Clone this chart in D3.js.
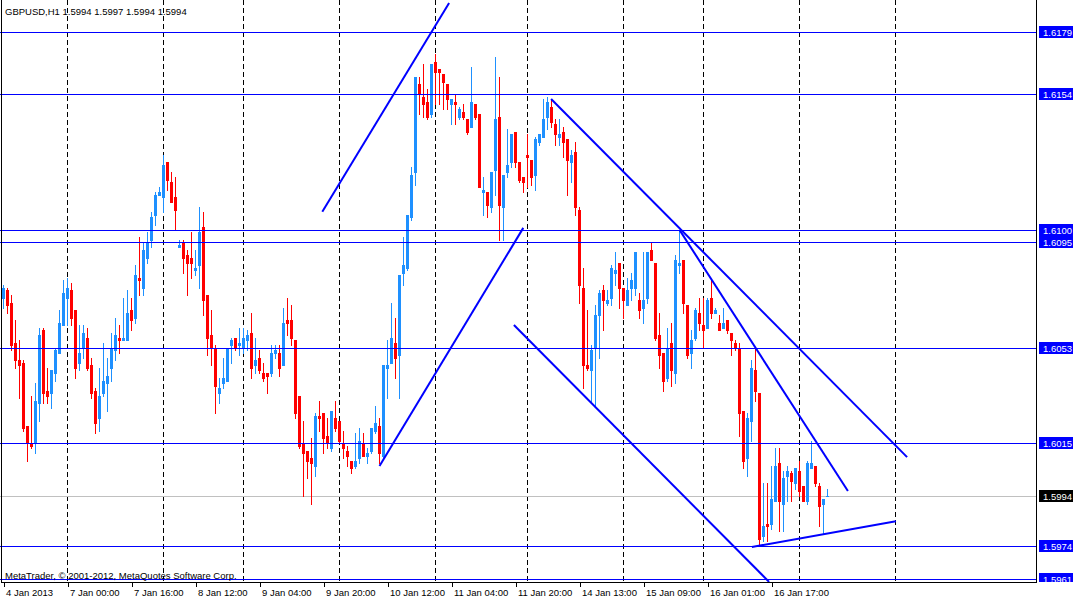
<!DOCTYPE html>
<html><head><meta charset="utf-8">
<script src="https://cdn.jsdelivr.net/npm/d3@7/dist/d3.min.js"></script>
<style>
html,body{margin:0;padding:0;background:#fff;overflow:hidden}
text{font-family:"Liberation Sans",Arial,sans-serif;font-size:9.5px}
</style>
</head><body>
<svg id="chart" width="1075" height="599"></svg>
<script>
// ---------------- DATA ----------------
const symbolName = "GBPUSD,H1";
const lastQuote = ["1.5994", "1.5997", "1.5994", "1.5994"];
const copyright = "MetaTrader, \u00a9 2001-2012, MetaQuotes Software Corp.";

const opens = [
1.6073,1.6076,1.6071,1.6055,1.6048,1.6047,1.6022,1.6015,1.6015,1.6031,
1.6060,1.6036,1.6035,1.6043,1.6051,1.6062,1.6073,1.6076,1.6068,1.6047,
1.6053,1.6057,1.6046,1.6036,1.6025,1.6035,1.6039,1.6045,1.6052,1.6057,
1.6056,1.6056,1.6068,1.6065,1.6081,1.6077,1.6089,1.6096,1.6106,1.6114,
1.6113,1.6127,1.6119,1.6113,1.6093,1.6095,1.6090,1.6089,1.6084,1.6086,
1.6101,1.6074,1.6058,1.6053,1.6035,1.6039,1.6040,1.6054,1.6057,1.6054,
1.6053,1.6056,1.6059,1.6046,1.6049,1.6043,1.6043,1.6043,1.6051,1.6051,
1.6046,1.6064,1.6064,1.6056,1.6034,1.6015,1.6012,1.6009,1.6006,1.6026,
1.6027,1.6018,1.6013,1.6025,1.6024,1.6015,1.6012,1.6008,1.6006,1.6009,
1.6015,1.6010,1.6012,1.6020,1.6022,1.6010,1.6045,1.6047,1.6055,1.6050,
1.6083,1.6085,1.6105,1.6123,1.6158,1.6153,1.6151,1.6146,1.6167,1.6164,
1.6162,1.6158,1.6150,1.6151,1.6145,1.6147,1.6144,1.6141,1.6150,1.6146,
1.6115,1.6115,1.6109,1.6124,1.6145,1.6109,1.6123,1.6127,1.6139,1.6127,
1.6121,1.6130,1.6128,1.6122,1.6135,1.6137,1.6145,1.6149,1.6142,1.6137,
1.6139,1.6136,1.6127,1.6131,1.6108,1.6077,1.6046,1.6044,1.6053,1.6066,
1.6076,1.6071,1.6073,1.6083,1.6087,1.6077,1.6070,1.6077,1.6077,1.6072,
1.6069,1.6073,1.6092,1.6087,1.6058,1.6051,1.6041,1.6055,1.6043,1.6086,
1.6088,1.6070,1.6051,1.6057,1.6067,1.6062,1.6061,1.6073,1.6067,1.6063,
1.6061,1.6064,1.6059,1.6055,1.6053,1.6028,1.6009,1.6024,1.6044,1.6035,
1.5978,1.5983,1.5983,1.5992,1.6007,1.5991,1.6002,1.6003,1.5999,1.6004,
1.5998,1.5992,1.6005,1.6006,1.5998,1.5991,1.5994];
const highs = [
1.6078,1.6077,1.6074,1.6064,1.6056,1.6048,1.6022,1.6034,1.6039,1.6061,
1.6061,1.6045,1.6044,1.6053,1.6068,1.6080,1.6081,1.6079,1.6068,1.6062,
1.6062,1.6061,1.6049,1.6037,1.6045,1.6055,1.6049,1.6059,1.6065,1.6062,
1.6073,1.6076,1.6073,1.6086,1.6097,1.6095,1.6099,1.6107,1.6115,1.6117,
1.6130,1.6127,1.6123,1.6121,1.6096,1.6096,1.6092,1.6099,1.6092,1.6109,
1.6107,1.6074,1.6068,1.6054,1.6041,1.6049,1.6053,1.6057,1.6057,1.6061,
1.6061,1.6060,1.6067,1.6057,1.6052,1.6047,1.6043,1.6054,1.6054,1.6054,
1.6069,1.6073,1.6070,1.6056,1.6034,1.6024,1.6012,1.6017,1.6027,1.6032,
1.6027,1.6025,1.6028,1.6032,1.6024,1.6020,1.6014,1.6008,1.6019,1.6021,
1.6019,1.6013,1.6021,1.6030,1.6025,1.6046,1.6056,1.6071,1.6065,1.6082,
1.6097,1.6106,1.6125,1.6161,1.6161,1.6166,1.6156,1.6166,1.6170,1.6164,
1.6162,1.6158,1.6152,1.6154,1.6149,1.6150,1.6144,1.6165,1.6150,1.6146,
1.6121,1.6115,1.6123,1.6169,1.6161,1.6122,1.6140,1.6138,1.6139,1.6127,
1.6121,1.6138,1.6128,1.6137,1.6138,1.6152,1.6153,1.6152,1.6144,1.6144,
1.6141,1.6136,1.6132,1.6135,1.6109,1.6085,1.6068,1.6054,1.6070,1.6076,
1.6078,1.6076,1.6086,1.6091,1.6087,1.6077,1.6081,1.6083,1.6091,1.6075,
1.6091,1.6091,1.6095,1.6087,1.6067,1.6051,1.6061,1.6063,1.6090,1.6100,
1.6088,1.6070,1.6060,1.6069,1.6073,1.6073,1.6073,1.6080,1.6069,1.6066,
1.6069,1.6064,1.6059,1.6056,1.6055,1.6028,1.6027,1.6048,1.6053,1.6035,
1.5999,1.5999,1.6006,1.6013,1.6013,1.6004,1.6006,1.6004,1.6005,1.6008,
1.5998,1.6008,1.6016,1.6006,1.5999,1.5993,1.5997];
const lows = [
1.6069,1.6067,1.6052,1.6045,1.6033,1.6020,1.6008,1.6013,1.6011,1.6024,
1.6031,1.6031,1.6029,1.6040,1.6051,1.6062,1.6062,1.6062,1.6041,1.6044,
1.6049,1.6044,1.6033,1.6019,1.6020,1.6034,1.6028,1.6040,1.6048,1.6051,
1.6056,1.6056,1.6060,1.6063,1.6074,1.6074,1.6087,1.6093,1.6102,1.6114,
1.6107,1.6116,1.6111,1.6100,1.6093,1.6083,1.6074,1.6081,1.6082,1.6077,
1.6066,1.6050,1.6046,1.6027,1.6031,1.6037,1.6040,1.6047,1.6052,1.6050,
1.6051,1.6052,1.6041,1.6043,1.6043,1.6040,1.6035,1.6042,1.6049,1.6042,
1.6046,1.6058,1.6054,1.6025,1.6013,1.5994,1.6001,1.5991,1.6002,1.6020,
1.6011,1.6013,1.6012,1.6020,1.6015,1.6009,1.6006,1.6003,1.6005,1.6007,
1.6010,1.6007,1.6011,1.6019,1.6007,1.6009,1.6033,1.6047,1.6041,1.6033,
1.6078,1.6084,1.6104,1.6118,1.6146,1.6145,1.6144,1.6145,1.6150,1.6150,
1.6148,1.6148,1.6142,1.6142,1.6144,1.6144,1.6138,1.6141,1.6144,1.6117,
1.6106,1.6105,1.6107,1.6114,1.6096,1.6096,1.6121,1.6125,1.6125,1.6119,
1.6115,1.6117,1.6118,1.6116,1.6134,1.6137,1.6140,1.6141,1.6134,1.6134,
1.6129,1.6114,1.6119,1.6106,1.6071,1.6037,1.6044,1.6032,1.6030,1.6049,
1.6060,1.6070,1.6070,1.6078,1.6069,1.6065,1.6070,1.6072,1.6074,1.6065,
1.6063,1.6071,1.6088,1.6056,1.6045,1.6036,1.6040,1.6038,1.6039,1.6083,
1.6067,1.6049,1.6045,1.6056,1.6060,1.6053,1.6061,1.6065,1.6067,1.6060,
1.6061,1.6059,1.6050,1.6052,1.6018,1.6005,1.6002,1.6016,1.6032,1.5975,
1.5976,1.5976,1.5981,1.5992,1.5980,1.5980,1.5992,1.5992,1.5997,1.5994,
1.5992,1.5991,1.6005,1.5998,1.5982,1.5979,1.5994];
const closes = [
1.6077,1.6070,1.6054,1.6048,1.6046,1.6021,1.6015,1.6014,1.6032,1.6058,
1.6035,1.6034,1.6044,1.6052,1.6063,1.6075,1.6077,1.6065,1.6045,1.6051,
1.6059,1.6045,1.6035,1.6023,1.6034,1.6040,1.6042,1.6053,1.6058,1.6056,
1.6057,1.6067,1.6064,1.6082,1.6080,1.6092,1.6095,1.6105,1.6114,1.6115,
1.6126,1.6120,1.6111,1.6108,1.6094,1.6089,1.6087,1.6087,1.6085,1.6099,
1.6072,1.6057,1.6053,1.6038,1.6037,1.6041,1.6053,1.6056,1.6053,1.6055,
1.6057,1.6058,1.6045,1.6048,1.6044,1.6041,1.6042,1.6051,1.6052,1.6045,
1.6063,1.6063,1.6057,1.6027,1.6014,1.6011,1.6008,1.6007,1.6026,1.6025,
1.6017,1.6015,1.6028,1.6021,1.6016,1.6013,1.6010,1.6005,1.6008,1.6016,
1.6010,1.6011,1.6021,1.6023,1.6011,1.6046,1.6046,1.6057,1.6049,1.6082,
1.6086,1.6106,1.6122,1.6161,1.6154,1.6150,1.6145,1.6166,1.6163,1.6163,
1.6159,1.6152,1.6152,1.6150,1.6148,1.6145,1.6139,1.6151,1.6145,1.6117,
1.6116,1.6110,1.6123,1.6144,1.6110,1.6122,1.6126,1.6138,1.6127,1.6120,
1.6119,1.6129,1.6121,1.6136,1.6138,1.6144,1.6151,1.6143,1.6138,1.6138,
1.6135,1.6128,1.6130,1.6109,1.6078,1.6046,1.6045,1.6052,1.6066,1.6075,
1.6072,1.6072,1.6085,1.6084,1.6077,1.6072,1.6076,1.6080,1.6091,1.6068,
1.6072,1.6091,1.6088,1.6057,1.6050,1.6040,1.6053,1.6044,1.6088,1.6087,
1.6071,1.6050,1.6056,1.6068,1.6063,1.6060,1.6072,1.6067,1.6068,1.6060,
1.6063,1.6060,1.6056,1.6053,1.6027,1.6008,1.6025,1.6045,1.6036,1.5977,
1.5982,1.5982,1.5993,1.6006,1.5992,1.6001,1.6004,1.6000,1.6005,1.5996,
1.5992,1.6007,1.6007,1.5999,1.5990,1.5993,1.5994];

// time axis labels (bar index -> text)
const timeLabelBars = [0, 16, 32, 48, 64, 80, 96, 112, 128, 144, 160, 176, 192];
const timeLabels = ["4 Jan 2013", "7 Jan 00:00", "7 Jan 16:00", "8 Jan 12:00", "9 Jan 04:00",
  "9 Jan 20:00", "10 Jan 12:00", "11 Jan 04:00", "11 Jan 20:00", "14 Jan 13:00",
  "15 Jan 09:00", "16 Jan 01:00", "16 Jan 17:00"];
// day separators (bar index of first bar of each day)
const separatorBars = [16, 40, 60, 84, 108, 131, 155, 175, 199, 223];
// price axis ticks
const priceTicks = [1.6190, 1.6175, 1.6160, 1.6145, 1.6130, 1.6115, 1.6100, 1.6085, 1.6070,
  1.6055, 1.6040, 1.6025, 1.6010, 1.5995, 1.5980, 1.5965];
// horizontal level objects
const levelPrices = [1.6179, 1.6154, 1.6100, 1.6095, 1.6053, 1.6015, 1.5974, 1.5961];
const bidPrice = 1.5994;
// trend line objects: [start bar, start price, end bar, end price]
const trendStartBar   = [79.7,    94.0,    136.9,   169.0,   127.6,   187.1];
const trendStartPrice = [1.61072, 1.60060, 1.61521, 1.61000, 1.60621, 1.59737];
const trendEndBar     = [111.4,   129.95,  225.9,   211.1,   191.4,   223.1];
const trendEndPrice   = [1.61904, 1.61008, 1.60095, 1.59960, 1.59598, 1.59840];

// ---------------- DRAW ----------------
const W = 1075, H = 599;
const plotRight = 1036, plotBottom = 582;
const svg = d3.select("#chart");
svg.append("rect").attr("width", W).attr("height", H).attr("fill", "#fff");

const x = d3.scaleLinear().domain([0, 100]).range([3.5, 403.5]);
const y = d3.scaleLinear().domain([1.6190, 1.5961]).range([3.9, 578.9]);

svg.append("clipPath").attr("id", "plotClip")
  .append("rect").attr("x", 0).attr("y", 0).attr("width", plotRight).attr("height", plotBottom);
svg.append("clipPath").attr("id", "axisClip")
  .append("rect").attr("x", plotRight).attr("y", 0).attr("width", W - plotRight).attr("height", plotBottom);

const plot = svg.append("g").attr("clip-path", "url(#plotClip)");

// separators
plot.selectAll("line.sep").data(separatorBars).join("line")
  .attr("x1", d => x(d)).attr("x2", d => x(d)).attr("y1", 0).attr("y2", plotBottom)
  .attr("stroke", "#000").attr("stroke-width", 1).attr("stroke-dasharray", "5,3")
  .attr("shape-rendering", "crispEdges");

// bid line
plot.append("line").attr("x1", 0).attr("x2", plotRight)
  .attr("y1", Math.round(y(bidPrice)) + 0.5).attr("y2", Math.round(y(bidPrice)) + 0.5)
  .attr("stroke", "#c0c0c0").attr("shape-rendering", "crispEdges");

// candles
const bars = d3.range(opens.length).map(i => ({i, o: opens[i], h: highs[i], l: lows[i], c: closes[i]}));
const col = d => d.c >= d.o ? "#1e90ff" : "#ff0000";
const cg = plot.append("g").attr("shape-rendering", "crispEdges");
cg.selectAll("line.wick").data(bars).join("line")
  .attr("x1", d => x(d.i)).attr("x2", d => x(d.i))
  .attr("y1", d => Math.round(y(d.h))).attr("y2", d => Math.round(y(d.l)) + 1)
  .attr("stroke", col).attr("stroke-width", 1);
cg.selectAll("rect.body").data(bars).join("rect")
  .attr("x", d => x(d.i) - 1.5).attr("width", 3)
  .attr("y", d => Math.round(y(Math.max(d.o, d.c))))
  .attr("height", d => Math.max(1, Math.round(y(Math.min(d.o, d.c))) - Math.round(y(Math.max(d.o, d.c))) + 1))
  .attr("fill", col);

// horizontal levels
plot.selectAll("line.lvl").data(levelPrices).join("line")
  .attr("x1", 0).attr("x2", plotRight)
  .attr("y1", d => Math.round(y(d)) + 0.5).attr("y2", d => Math.round(y(d)) + 0.5)
  .attr("stroke", "#0000ff").attr("shape-rendering", "crispEdges");

// trend lines
plot.selectAll("line.trend").data(trendStartBar).join("line")
  .attr("x1", (d, k) => x(trendStartBar[k])).attr("y1", (d, k) => y(trendStartPrice[k]))
  .attr("x2", (d, k) => x(trendEndBar[k])).attr("y2", (d, k) => y(trendEndPrice[k]))
  .attr("stroke", "#0000ff").attr("stroke-width", 2);

// header + copyright
svg.append("text").attr("x", 5).attr("y", 14.5).attr("fill", "#000")
  .text(symbolName + "  " + lastQuote.join(" "));
svg.append("text").attr("x", 5).attr("y", 578.5).attr("fill", "#000").text(copyright);

// frame lines
svg.append("line").attr("x1", 1.5).attr("x2", 1.5).attr("y1", 0).attr("y2", plotBottom)
  .attr("stroke", "#000").attr("shape-rendering", "crispEdges");
svg.append("line").attr("x1", plotRight + 0.5).attr("x2", plotRight + 0.5).attr("y1", 0).attr("y2", plotBottom + 1)
  .attr("stroke", "#000").attr("shape-rendering", "crispEdges");
svg.append("line").attr("x1", 1).attr("x2", plotRight + 1).attr("y1", plotBottom + 0.5).attr("y2", plotBottom + 0.5)
  .attr("stroke", "#000").attr("shape-rendering", "crispEdges");

// price axis
const yAxis = d3.axisRight(y).tickValues(priceTicks).tickSize(4).tickPadding(2)
  .tickFormat(d3.format(".4f"));
const ya = svg.append("g").attr("transform", `translate(${plotRight + 0.5},0)`)
  .attr("clip-path", "url(#axisClip)").call(yAxis);
ya.select(".domain").remove();
ya.selectAll("line").attr("stroke", "#000").attr("shape-rendering", "crispEdges");
ya.selectAll("text").attr("fill", "#000").style("font-family", "Liberation Sans, Arial, sans-serif")
  .style("font-size", "9.5px");

// price boxes
const boxG = svg.append("g").attr("clip-path", "url(#axisClip)");
const boxData = levelPrices.map(p => ({p, fill: "#0000ff"})).concat([{p: bidPrice, fill: "#000"}]);
boxG.selectAll("rect").data(boxData).join("rect")
  .attr("x", plotRight + 3).attr("width", 34)
  .attr("y", d => Math.round(y(d.p)) - 6).attr("height", 12)
  .attr("fill", d => d.fill).attr("shape-rendering", "crispEdges");
boxG.selectAll("text").data(boxData).join("text")
  .attr("x", plotRight + 7).attr("y", d => Math.round(y(d.p)) + 3.5)
  .attr("fill", "#fff").text(d => d3.format(".4f")(d.p));

// time axis
const xAxis = d3.axisBottom(x).tickValues(timeLabelBars).tickSize(4).tickPadding(3)
  .tickFormat((d, k) => timeLabels[k]);
const xa = svg.append("g").attr("transform", `translate(0,${plotBottom + 0.5})`).call(xAxis);
xa.select(".domain").remove();
xa.selectAll("line").attr("stroke", "#000").attr("shape-rendering", "crispEdges");
xa.selectAll("text").attr("text-anchor", "start").attr("dx", "2").attr("fill", "#000")
  .style("font-family", "Liberation Sans, Arial, sans-serif").style("font-size", "9.5px");
</script>
</body></html>
